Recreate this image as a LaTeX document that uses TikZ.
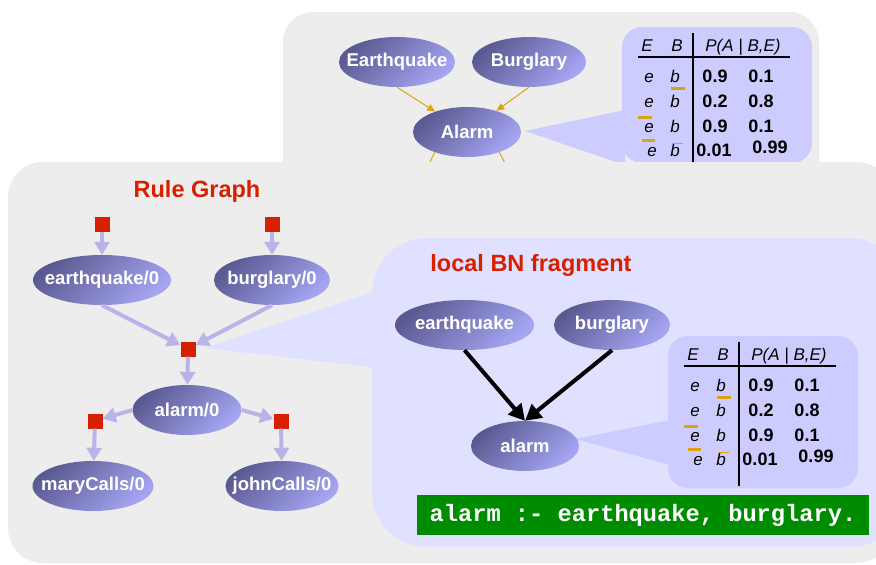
\documentclass[tikz,border=0pt]{standalone}
\usepackage{fontspec}
\setmainfont{Liberation Sans}
\setmonofont{Liberation Mono}
\usetikzlibrary{shapes.geometric,arrows.meta}

\definecolor{panelgray}{RGB}{237,237,237}
\definecolor{bnlav}{RGB}{224,224,255}
\definecolor{cptlav}{RGB}{204,204,255}
\definecolor{rulered}{RGB}{214,32,0}
\definecolor{arrlav}{RGB}{184,180,232}
\definecolor{barorange}{RGB}{218,165,20}
\definecolor{elldark}{RGB}{90,90,146}
\definecolor{elllight}{RGB}{165,165,243}
\definecolor{clausegreen}{RGB}{0,140,0}

\begin{document}
\begin{tikzpicture}[x=1pt, y=-1pt,
  ell/.style={ellipse, inner xsep=-10pt, inner ysep=0pt, minimum height=50pt, text=white,
    font=\bfseries\fontsize{18.5}{20}\selectfont,
    top color=elldark, bottom color=elllight, shading angle=45},
  fac/.style={rectangle, inner sep=0pt, minimum size=15pt, fill=rulered},
  rgedge/.style={draw=arrlav, line width=4pt, -{Triangle[width=15pt,length=13pt]}},
  bnedge/.style={draw=black, line width=4pt, -{Triangle[width=17pt,length=16pt]}},
  oedge/.style={draw=barorange, line width=1pt, -{Triangle[width=7pt,length=8pt]}},
  title/.style={text=rulered, font=\bfseries\fontsize{23.5}{26}\selectfont},
  ev/.style={font=\itshape\fontsize{17}{18}\selectfont, inner sep=0pt, anchor=base},
  pv/.style={font=\bfseries\fontsize{18}{20}\selectfont, inner sep=0pt, anchor=base},
  obar/.style={fill=barorange}
]
\useasboundingbox (0,0) rectangle (876,565);

% 条件概率表: #1,#2 左上角, #3 高度, #4 名称前缀
\newcommand{\cpt}[4]{
  \begin{scope}[shift={(#1,#2)}]
    \fill[cptlav, rounded corners=20pt] (0,0) rectangle (190,#3);
    \draw[line width=2.5pt] (71,6) -- (71,150);
    \draw[line width=2.5pt] (16,30) -- (168,30);
    \node[ev] (#4E) at (25,24) {E};
    \node[ev] (#4B) at (55,24) {B};
    \node[ev] (#4P) at (121,24) {P(A | B,E)};
    \foreach \i/\yy/\pa/\pb in {1/55/0.9/0.1, 2/80/0.2/0.8, 3/105/0.9/0.1} {
      \node[ev] (#4e\i) at (27,\yy) {e};
      \node[ev] (#4b\i) at (53,\yy) {b};
      \node[pv] (#4p\i) at (93,\yy) {\pa};
      \node[pv] (#4q\i) at (139,\yy) {\pb};
    }
    \node[ev] (#4e4) at (30,129) {e};
    \node[ev] (#4b4) at (53,129) {b};
    \node[pv] (#4p4) at (92,129) {0.01};
    \node[pv] (#4q4) at (148,126) {0.99};
    % 取反的横线
    \fill[obar] (49,59.5) rectangle (63,62.5);
    \fill[obar] (16,88.5) rectangle (30,91.5);
    \fill[obar] (20,111.5) rectangle (33,114.5);
    \fill[obar] (50,115.5) rectangle (61,116.5);
  \end{scope}
}

% 上方: 原始贝叶斯网络
\fill[panelgray, rounded corners=30pt] (283,12) rectangle (819,200);
\fill[cptlav] (525,131) -- (625,110) -- (625,165) -- cycle;
\cpt{622}{27}{136}{t}

\node[ell, minimum width=116pt] (tEq) at (397,62) {Earthquake};
\node[ell, minimum width=114pt] (tBu) at (529,62) {Burglary};
\node[ell, minimum width=108pt] (tAl) at (467,132) {Alarm};
\draw[oedge] (tEq.south) -- (tAl);
\draw[oedge] (tBu.south) -- (tAl);
\coordinate (tdown1) at (424,175);
\coordinate (tdown2) at (511,175);
\draw[barorange, line width=1pt] (tAl.212) -- (tdown1);
\draw[barorange, line width=1pt] (tAl.328) -- (tdown2);

% 下方: 规则图
\fill[panelgray, rounded corners=35pt] (8,162) rectangle (892,563);
\fill[bnlav] (205,348) -- (380,290) -- (380,368) -- cycle;
\fill[bnlav, rounded corners=55pt] (372,238) rectangle (905,547);

\node[title] (rgtitle) at (197,191) {Rule Graph};

\node[fac] (fEq) at (102,224) {};
\node[fac] (fBu) at (272,224) {};
\node[fac] (fAl) at (188,349) {};
\node[fac] (fMa) at (95,421) {};
\node[fac] (fJo) at (281,421) {};

\node[ell, minimum width=138pt] (eq0) at (102,280) {earthquake/0};
\node[ell, minimum width=116pt] (bu0) at (272,280) {burglary/0};
\node[ell, minimum width=109pt] (al0) at (187,410) {alarm/0};
\node[ell, minimum width=121pt] (ma0) at (93,486) {maryCalls/0};
\node[ell, minimum width=113pt] (jo0) at (282,486) {johnCalls/0};

\draw[rgedge] (fEq) -- (eq0);
\draw[rgedge] (fBu) -- (bu0);
\draw[rgedge] (eq0.south) -- (fAl);
\draw[rgedge] (bu0.south) -- (fAl);
\draw[rgedge] (fAl) -- (al0);
\draw[rgedge] (al0.west) -- (fMa);
\draw[rgedge] (al0.east) -- (fJo);
\draw[rgedge] (fMa) -- (ma0);
\draw[rgedge] (fJo) -- (jo0);

% 局部 BN 片段
\node[title] (bntitle) at (531,265) {local BN fragment};
\fill[cptlav] (575,439) -- (670,420) -- (670,465) -- cycle;
\cpt{668}{336}{152}{b}

\node[ell, minimum width=139pt] (bEq) at (464.5,325) {earthquake};
\node[ell, minimum width=116pt] (bBu) at (612,325) {burglary};
\node[ell, minimum width=108pt] (bAl) at (525,446) {alarm};
\draw[bnedge] (bEq.south) -- (bAl.north);
\draw[bnedge] (bBu.south) -- (bAl.north);

% 对应的规则
\node[fill=clausegreen, text=white, minimum width=452pt, minimum height=40pt,
  inner sep=0pt, font=\ttfamily\bfseries\fontsize{23.7}{26}\selectfont]
  (clause) at (643,515) {alarm :- earthquake, burglary.};

\end{tikzpicture}
\end{document}
